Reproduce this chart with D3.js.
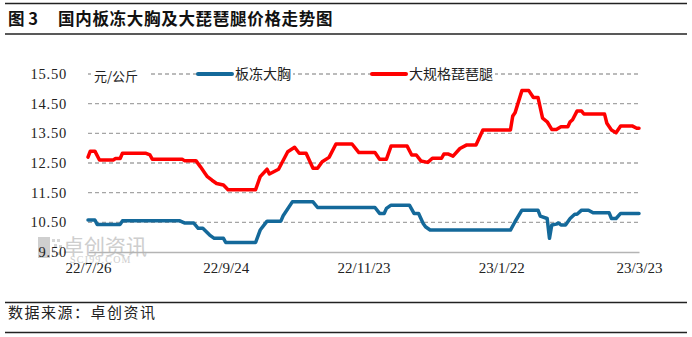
<!DOCTYPE html>
<html>
<head>
<meta charset="utf-8">
<script src="https://cdn.jsdelivr.net/npm/d3@7"></script>
<style>
  body { margin: 0; background: #fff; }
  svg { display: block; }
</style>
</head>
<body>
<div id="chart"></div>
<script>
// --- Data ---
const titleNo = "图 3";
const chartTitle = "国内板冻大胸及大琵琶腿价格走势图";
const sourceText = "数据来源：卓创资讯";
const unitLabel = "元/公斤";
const seriesNames = ["板冻大胸", "大规格琵琶腿"];

const yTicks = [9.5, 10.5, 11.5, 12.5, 13.5, 14.5, 15.5];
const xTickDates = ["2022-07-26", "2022-09-24", "2022-11-23", "2023-01-22", "2023-03-23"];
const xTickLabels = ["22/7/26", "22/9/24", "22/11/23", "23/1/22", "23/3/23"];

// 板冻大胸
const breastDates = ["2022-07-26", "2022-07-29", "2022-07-30", "2022-08-09", "2022-08-10", "2022-09-04",
  "2022-09-06", "2022-09-10", "2022-09-12", "2022-09-14", "2022-09-17", "2022-09-19", "2022-09-23",
  "2022-09-24", "2022-10-07", "2022-10-09", "2022-10-12", "2022-10-18", "2022-10-19", "2022-10-23",
  "2022-11-01", "2022-11-03", "2022-11-28", "2022-11-30", "2022-12-02", "2022-12-03", "2022-12-05",
  "2022-12-13", "2022-12-15", "2022-12-17", "2022-12-19", "2022-12-20", "2022-12-22", "2023-01-26",
  "2023-01-28", "2023-01-31", "2023-02-07", "2023-02-08", "2023-02-11", "2023-02-12", "2023-02-13",
  "2023-02-15", "2023-02-16", "2023-02-17", "2023-02-19", "2023-02-21", "2023-02-23", "2023-02-24",
  "2023-02-26", "2023-03-01", "2023-03-03", "2023-03-10", "2023-03-11", "2023-03-13", "2023-03-15",
  "2023-03-23"];
const breastValues = [10.58, 10.58, 10.43, 10.43, 10.55, 10.55,
  10.48, 10.48, 10.30, 10.30, 10.07, 9.96, 9.96,
  9.82, 9.82, 10.24, 10.54, 10.54, 10.72, 11.19,
  11.19, 11.00, 11.00, 10.80, 10.80, 10.97, 11.08,
  11.08, 10.80, 10.80, 10.46, 10.35, 10.24, 10.24,
  10.52, 10.91, 10.91, 10.71, 10.63, 9.96, 10.41,
  10.44, 10.48, 10.41, 10.41, 10.63, 10.77, 10.77,
  10.91, 10.91, 10.82, 10.82, 10.63, 10.63, 10.80,
  10.80];

// 大规格琵琶腿
const legDates = ["2022-07-26", "2022-07-27", "2022-07-29", "2022-07-31", "2022-08-06", "2022-08-07",
  "2022-08-09", "2022-08-10", "2022-08-20", "2022-08-22", "2022-08-23", "2022-09-05", "2022-09-06",
  "2022-09-11", "2022-09-13", "2022-09-15", "2022-09-16", "2022-09-18", "2022-09-20", "2022-09-23",
  "2022-09-25", "2022-10-07", "2022-10-09", "2022-10-12", "2022-10-13", "2022-10-17", "2022-10-21",
  "2022-10-24", "2022-10-26", "2022-10-29", "2022-11-01", "2022-11-03", "2022-11-05", "2022-11-08",
  "2022-11-11", "2022-11-18", "2022-11-21", "2022-11-28", "2022-11-30", "2022-12-03", "2022-12-05",
  "2022-12-12", "2022-12-14", "2022-12-16", "2022-12-18", "2022-12-21", "2022-12-23", "2022-12-27",
  "2022-12-28", "2022-12-30", "2023-01-01", "2023-01-04", "2023-01-07", "2023-01-11", "2023-01-14",
  "2023-01-26", "2023-01-27", "2023-01-28", "2023-01-31", "2023-02-03", "2023-02-05", "2023-02-07",
  "2023-02-09", "2023-02-11", "2023-02-13", "2023-02-15", "2023-02-17", "2023-02-20", "2023-02-21",
  "2023-02-22", "2023-02-24", "2023-02-26", "2023-02-27", "2023-03-08", "2023-03-09", "2023-03-11",
  "2023-03-13", "2023-03-15", "2023-03-20", "2023-03-22", "2023-03-23"];
const legValues = [12.70, 12.90, 12.90, 12.60, 12.60, 12.65,
  12.65, 12.83, 12.83, 12.77, 12.63, 12.63, 12.58,
  12.58, 12.37, 12.15, 12.04, 11.92, 11.81, 11.76,
  11.60, 11.60, 12.04, 12.29, 12.13, 12.29, 12.88,
  13.03, 12.83, 12.83, 12.32, 12.32, 12.54, 12.69,
  13.14, 13.14, 12.85, 12.85, 12.63, 12.63, 13.07,
  13.07, 12.77, 12.77, 12.57, 12.52, 12.66, 12.66,
  12.80, 12.80, 12.73, 12.99, 13.11, 13.11, 13.61,
  13.61, 14.08, 14.19, 14.94, 14.94, 14.71, 14.71,
  14.01, 13.89, 13.63, 13.63, 13.72, 13.72, 13.89,
  13.95, 14.25, 14.25, 14.15, 14.15, 13.84, 13.61,
  13.52, 13.75, 13.75, 13.67, 13.67];

// --- Setup ---
const width = 692, height = 337;
const plot = { left: 88, right: 639, top: 74, bottom: 252 };
const colors = ["#14699a", "#ff0000"];
const parse = d3.timeParse("%Y-%m-%d");

const svg = d3.select("#chart").append("svg")
  .attr("width", width)
  .attr("height", height);

const x = d3.scaleTime()
  .domain([parse(xTickDates[0]), parse(xTickDates[xTickDates.length - 1])])
  .range([plot.left, plot.right]);

const y = d3.scaleLinear()
  .domain([9.5, 15.5])
  .range([plot.bottom, plot.top]);

// title block lines
svg.append("line").attr("x1", 5).attr("x2", 687).attr("y1", 3.5).attr("y2", 3.5)
  .attr("stroke", "#222").attr("stroke-width", 1.3);
svg.append("line").attr("x1", 5).attr("x2", 687).attr("y1", 34).attr("y2", 34)
  .attr("stroke", "#222").attr("stroke-width", 1.3);
svg.append("text")
  .attr("x", 8).attr("y", 25)
  .attr("font-family", "'Noto Sans CJK SC', sans-serif")
  .attr("font-weight", 700)
  .attr("font-size", 16.5)
  .attr("fill", "#111")
  .text(titleNo);
svg.append("text")
  .attr("x", 58).attr("y", 25)
  .attr("font-family", "'Noto Sans CJK SC', sans-serif")
  .attr("font-weight", 700)
  .attr("font-size", 16.5)
  .attr("letter-spacing", 0.7)
  .attr("fill", "#111")
  .text(chartTitle);

// footer
svg.append("line").attr("x1", 5).attr("x2", 687).attr("y1", 302.5).attr("y2", 302.5)
  .attr("stroke", "#222").attr("stroke-width", 1.3);
svg.append("line").attr("x1", 5).attr("x2", 687).attr("y1", 332.5).attr("y2", 332.5)
  .attr("stroke", "#222").attr("stroke-width", 1.3);
svg.append("text")
  .attr("x", 8).attr("y", 318)
  .attr("font-family", "'Noto Sans CJK SC', sans-serif")
  .attr("font-size", 15)
  .attr("letter-spacing", 1.5)
  .attr("fill", "#222")
  .text(sourceText);

// watermark
const wm = svg.append("g").attr("opacity", 0.8);
wm.append("rect").attr("x", 38).attr("y", 237).attr("width", 12).attr("height", 21).attr("fill", "#c4c4c4");
[[52, 239], [57, 239], [54, 244], [59, 245], [52, 250], [57, 252]].forEach(p => {
  wm.append("rect").attr("x", p[0]).attr("y", p[1]).attr("width", 3).attr("height", 3).attr("fill", "#cccccc");
});
wm.append("text").attr("x", 63).attr("y", 254)
  .attr("font-family", "'Noto Sans CJK SC', sans-serif")
  .attr("font-size", 21).attr("fill", "#c2c2c2")
  .text("卓创资讯");
wm.append("text").attr("x", 70).attr("y", 263)
  .attr("font-family", "'Liberation Serif', serif")
  .attr("font-size", 10).attr("letter-spacing", 1.2).attr("fill", "#c2c2c2")
  .text("SCI99.COM");

// grid
svg.append("g")
  .selectAll("line")
  .data(yTicks.slice(1))
  .join("line")
  .attr("x1", plot.left).attr("x2", plot.right)
  .attr("y1", d => y(d)).attr("y2", d => y(d))
  .attr("stroke", "#a5a5a5")
  .attr("stroke-width", 1.4)
  .attr("stroke-dasharray", "4,3");

// y labels
svg.append("g")
  .selectAll("text")
  .data(yTicks)
  .join("text")
  .attr("x", 67)
  .attr("y", d => y(d) + 5)
  .attr("text-anchor", "end")
  .attr("font-family", "'Liberation Serif', serif")
  .attr("font-size", 14.5)
  .attr("letter-spacing", 0.8)
  .attr("fill", "#222")
  .text(d => d.toFixed(2));

// x axis
const xAxis = d3.axisBottom(x)
  .tickValues(xTickDates.map(parse))
  .tickSize(0)
  .tickPadding(10)
  .tickFormat((d, i) => xTickLabels[i]);

const gx = svg.append("g")
  .attr("transform", `translate(0,${plot.bottom})`)
  .call(xAxis);
gx.select(".domain").attr("stroke", "#b4b4b4").attr("stroke-width", 1.6);
gx.selectAll("text")
  .attr("font-family", "'Liberation Serif', serif")
  .attr("font-size", 15)
  .attr("fill", "#222");

// unit label
const unit = svg.append("g");
unit.append("rect").attr("x", 91).attr("y", 67).attr("width", 58).attr("height", 18).attr("fill", "#fff");
unit.append("text")
  .attr("x", 94).attr("y", 81)
  .attr("font-family", "'Noto Sans CJK SC', sans-serif")
  .attr("font-size", 13)
  .attr("fill", "#222")
  .text(unitLabel);

// lines
const line = d3.line()
  .x(d => x(d.date))
  .y(d => y(d.value));

const series = [
  breastDates.map((d, i) => ({ date: parse(d), value: breastValues[i] })),
  legDates.map((d, i) => ({ date: parse(d), value: legValues[i] }))
];

series.forEach((s, i) => {
  svg.append("path")
    .datum(s)
    .attr("fill", "none")
    .attr("stroke", colors[i])
    .attr("stroke-width", 3.5)
    .attr("stroke-linejoin", "round")
    .attr("stroke-linecap", "round")
    .attr("d", line);
});

// legend
const legendX = [198, 372];
const legend = svg.append("g");
seriesNames.forEach((name, i) => {
  const g = legend.append("g").attr("transform", `translate(${legendX[i]},${plot.top})`);
  const t = g.append("text")
    .attr("x", 37).attr("y", 5)
    .attr("font-family", "'Noto Sans CJK SC', sans-serif")
    .attr("font-size", 14)
    .attr("fill", "#222")
    .text(name);
  const w = t.node().getComputedTextLength();
  g.insert("rect", "text").attr("x", 34).attr("y", -9).attr("width", w + 5).attr("height", 18).attr("fill", "#fff");
  g.append("line")
    .attr("x1", 0).attr("x2", 34)
    .attr("stroke", colors[i])
    .attr("stroke-width", 4)
    .attr("stroke-linecap", "round");
});
</script>
</body>
</html>
